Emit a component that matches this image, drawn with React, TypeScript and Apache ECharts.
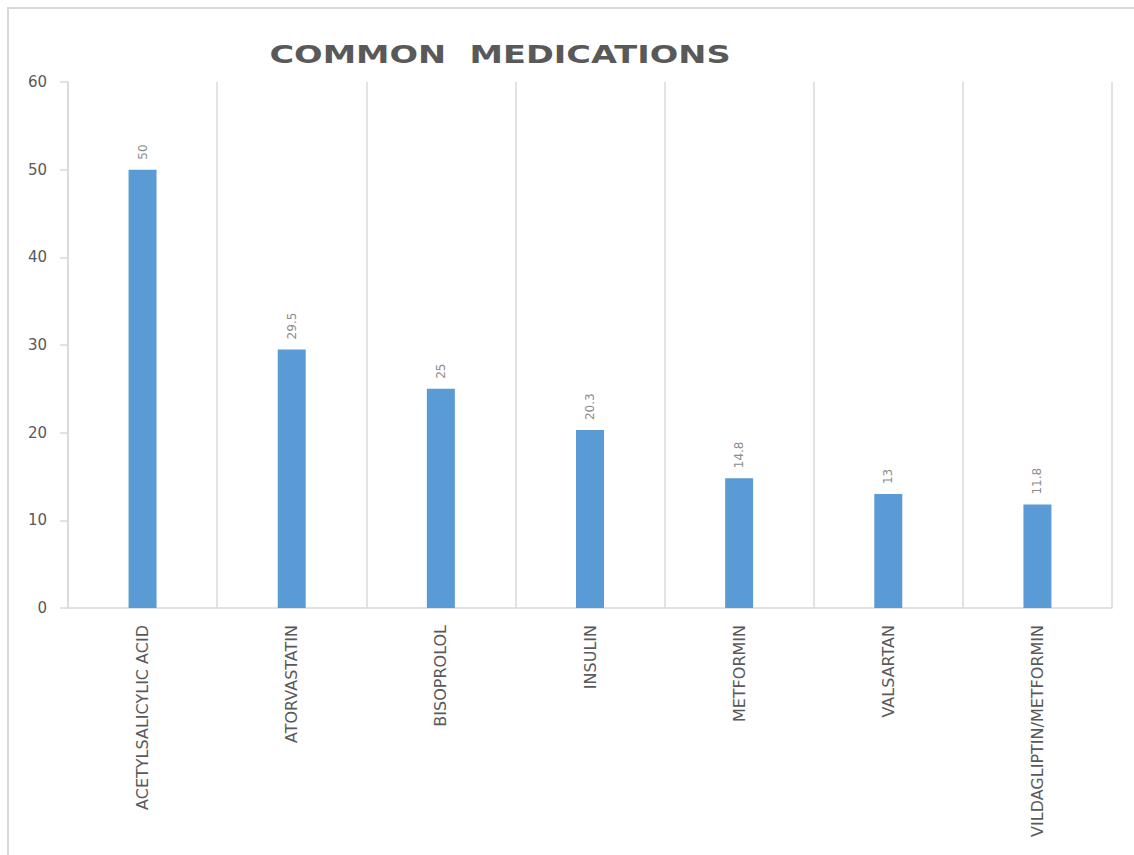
import React, { useEffect, useRef } from "react";
import * as echarts from "echarts";

const categories = [
  "ACETYLSALICYLIC ACID",
  "ATORVASTATIN",
  "BISOPROLOL",
  "INSULIN",
  "METFORMIN",
  "VALSARTAN",
  "VILDAGLIPTIN/METFORMIN",
];
const values = [50, 29.5, 25, 20.3, 14.8, 13, 11.8];
const titleText = "COMMON  MEDICATIONS";

export default function App() {
  const ref = useRef<HTMLDivElement>(null);
  useEffect(() => {
    if (!ref.current) return;
    const chart = echarts.init(ref.current, null, { renderer: "svg" });
    chart.setOption({
      animation: false,
      backgroundColor: "#ffffff",
      graphic: [
        {
          type: "rect",
          shape: { x: 8, y: 8, width: 1140, height: 870 },
          style: { fill: "none", stroke: "#d9d9d9", lineWidth: 2 },
          silent: true,
        },
        {
          type: "text",
          x: 500,
          y: 55,
          scaleX: 1.4,
          style: {
            text: titleText,
            fontFamily: "DejaVu Sans",
            fontWeight: "bold",
            fontSize: 24,
            fill: "#595959",
            align: "center",
            verticalAlign: "middle",
          },
        },
      ],
      grid: { left: 68, right: 22, top: 82, bottom: 247, containLabel: false },
      xAxis: {
        type: "category",
        data: categories,
        axisLine: { show: true, lineStyle: { color: "#d9d9d9", width: 1.5 } },
        axisTick: { show: false },
        splitLine: { show: true, lineStyle: { color: "#d9d9d9", width: 1.5 } },
        axisLabel: {
          rotate: 90,
          interval: 0,
          margin: 17,
          color: "#595959",
          fontFamily: "DejaVu Sans",
          fontSize: 16,
        },
      },
      yAxis: {
        type: "value",
        min: 0,
        max: 60,
        interval: 10,
        axisLine: { show: true, lineStyle: { color: "#d9d9d9", width: 1.5 } },
        axisTick: { show: true, length: 8, lineStyle: { color: "#d9d9d9", width: 1.5 } },
        splitLine: { show: false },
        axisLabel: {
          margin: 21,
          color: "#595959",
          fontFamily: "DejaVu Sans",
          fontSize: 15,
        },
      },
      series: [
        {
          type: "bar",
          data: values,
          barWidth: 28,
          itemStyle: { color: "#5B9BD5" },
          label: {
            show: true,
            position: "top",
            rotate: 90,
            align: "left",
            verticalAlign: "middle",
            distance: 10,
            color: "#8c8c8c",
            fontFamily: "DejaVu Sans",
            fontSize: 12,
          },
        },
      ],
    });
    return () => chart.dispose();
  }, []);
  return (
    <div
      ref={ref}
      style={{ position: "fixed", left: 0, top: 0, width: 1134, height: 855 }}
    />
  );
}
